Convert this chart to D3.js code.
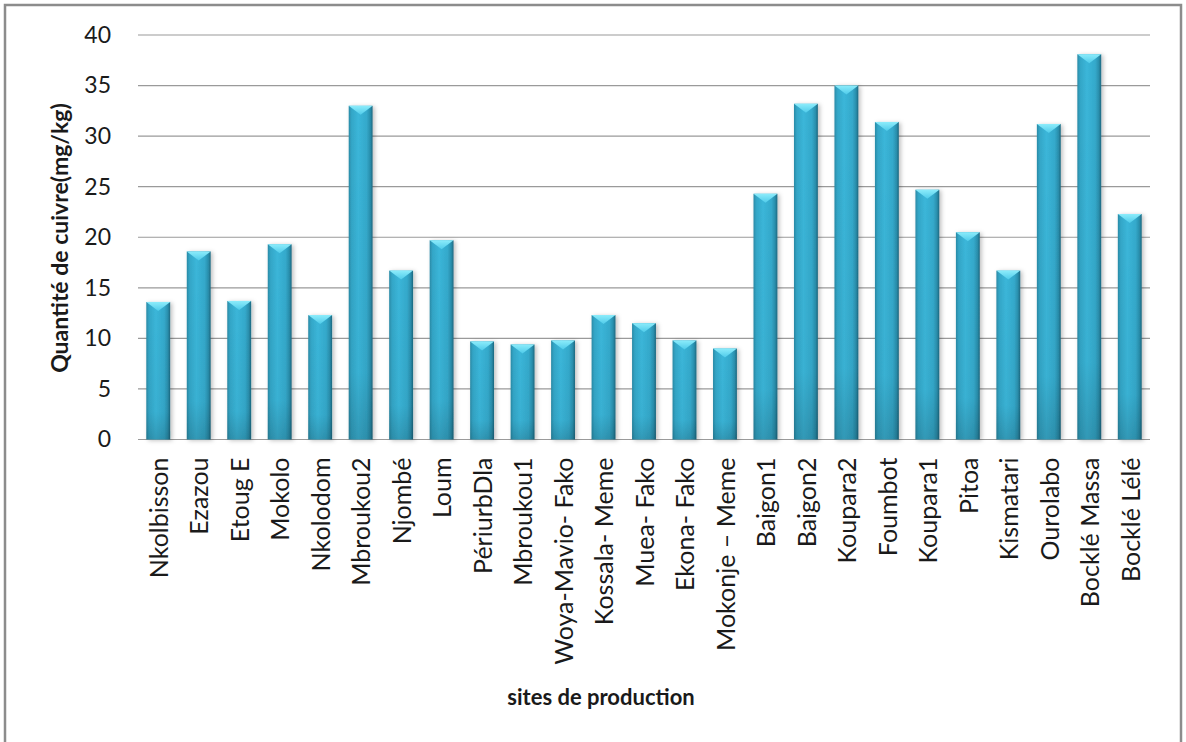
<!DOCTYPE html>
<html>
<head>
<meta charset="utf-8">
<script src="https://cdn.jsdelivr.net/npm/d3@7"></script>
<style>
  html, body { margin: 0; padding: 0; background: #fff; }
  svg { display: block; }
  text { font-family: Lato, "Open Sans", sans-serif; fill: #1a1a1a; }
</style>
</head>
<body>
<svg id="chart" width="1186" height="742"></svg>
<script>
// Copper content per production site (mg/kg)
const sites = [
  "Nkolbisson", "Ezazou", "Etoug E", "Mokolo", "Nkolodom", "Mbroukou2", "Njombé",
  "Loum", "PériurbDla", "Mbroukou1", "Woya-Mavio- Fako", "Kossala- Meme", "Muea- Fako",
  "Ekona- Fako", "Mokonje – Meme", "Baigon1", "Baigon2", "Koupara2", "Foumbot",
  "Koupara1", "Pitoa", "Kismatari", "Ourolabo", "Bocklé Massa", "Bocklé Lélé"
];
const copper = [
  13.6, 18.6, 13.7, 19.3, 12.3, 33.0, 16.7,
  19.7, 9.7, 9.4, 9.8, 12.3, 11.5,
  9.8, 9.0, 24.3, 33.2, 35.0, 31.4,
  24.7, 20.5, 16.7, 31.2, 38.1, 22.3
];
const yTicks = [0, 5, 10, 15, 20, 25, 30, 35, 40];
const yTitle = "Quantité de cuivre(mg/kg)";
const xTitle = "sites de production";

const svg = d3.select("#chart");

// outer frame
svg.append("rect")
  .attr("x", 5).attr("y", 5).attr("width", 1176).attr("height", 740)
  .attr("fill", "#fff").attr("stroke", "#8c8c8c").attr("stroke-width", 2.5);

const x = d3.scaleBand().domain(sites).range([138, 1150])
  .paddingInner(0.41).paddingOuter(0.205);
const y = d3.scaleLinear().domain([0, 40]).range([439.5, 35]);

// gradients for the bevelled bars
const defs = svg.append("defs");
const body = defs.append("linearGradient").attr("id", "barBody")
  .attr("x1", "0%").attr("x2", "100%").attr("y1", "0%").attr("y2", "0%");
[["0%", "#2a8aa6"], ["12%", "#33a6c7"], ["40%", "#3bb6d9"], ["75%", "#34a9cb"], ["90%", "#2a8fad"], ["100%", "#1c6880"]]
  .forEach(([o, c]) => body.append("stop").attr("offset", o).attr("stop-color", c));
const shade = defs.append("linearGradient").attr("id", "barShade")
  .attr("x1", "0%").attr("x2", "0%").attr("y1", "0%").attr("y2", "100%");
[["0%", "#000", 0], ["80%", "#000", 0.03], ["100%", "#000", 0.16]]
  .forEach(([o, c, a]) => shade.append("stop").attr("offset", o).attr("stop-color", c).attr("stop-opacity", a));
const cap = defs.append("linearGradient").attr("id", "barCap")
  .attr("x1", "0%").attr("x2", "0%").attr("y1", "0%").attr("y2", "100%");
[["0%", "#8cecfb"], ["100%", "#4fcbea"]]
  .forEach(([o, c]) => cap.append("stop").attr("offset", o).attr("stop-color", c));
const shadow = defs.append("filter").attr("id", "barShadow")
  .attr("x", "-30%").attr("y", "-10%").attr("width", "160%").attr("height", "130%");
shadow.append("feDropShadow").attr("dx", 2).attr("dy", 1).attr("stdDeviation", 2)
  .attr("flood-color", "#000").attr("flood-opacity", 0.25);

// gridlines
svg.append("g").selectAll("line").data(yTicks).join("line")
  .attr("x1", 138).attr("x2", 1150)
  .attr("y1", d => y(d)).attr("y2", d => y(d))
  .attr("stroke", "#9a9a9a").attr("stroke-width", 1.2);

// y-axis labels
const yAxis = d3.axisLeft(y).tickValues(yTicks).tickSize(0).tickPadding(0);
svg.append("g").attr("transform", "translate(111,0)").call(yAxis)
  .call(g => g.select(".domain").remove())
  .selectAll("text").style("font-size", "23px").attr("fill", "#1a1a1a")
  .style("font-family", "Lato, 'Open Sans', sans-serif");

// bars
const bars = svg.append("g").selectAll("g").data(sites).join("g")
  .attr("filter", "url(#barShadow)");
bars.append("rect")
  .attr("x", d => x(d)).attr("width", x.bandwidth())
  .attr("y", (d, i) => y(copper[i])).attr("height", (d, i) => y(0) - y(copper[i]))
  .attr("fill", "url(#barBody)");
bars.append("rect")
  .attr("x", d => x(d)).attr("width", x.bandwidth())
  .attr("y", (d, i) => y(copper[i])).attr("height", (d, i) => y(0) - y(copper[i]))
  .attr("fill", "url(#barShade)");
bars.append("path")
  .attr("d", (d, i) => {
    const x0 = x(d), w = x.bandwidth(), t = y(copper[i]);
    return `M${x0},${t}L${x0 + w},${t}L${x0 + w / 2},${t + 9}Z`;
  })
  .attr("fill", "url(#barCap)");

// x-axis labels, rotated
const xAxis = d3.axisBottom(x).tickSize(0).tickPadding(0);
svg.append("g").attr("transform", `translate(0,${y(0)})`).call(xAxis)
  .call(g => g.select(".domain").remove())
  .selectAll("text")
  .style("font-size", "25px").attr("fill", "#1a1a1a")
  .style("font-family", "Lato, 'Open Sans', sans-serif")
  .attr("transform", "rotate(-90)")
  .attr("text-anchor", "end")
  .attr("x", -18).attr("y", 1).attr("dy", "0.35em");

// axis titles
svg.append("text")
  .attr("transform", "translate(60,238) rotate(-90)")
  .attr("text-anchor", "middle").attr("dy", "0.35em")
  .style("font-size", "23px").style("font-weight", "bold")
  .text(yTitle);
svg.append("text")
  .attr("x", 601).attr("y", 697)
  .attr("text-anchor", "middle").attr("dy", "0.35em")
  .style("font-size", "22px").style("font-weight", "bold")
  .text(xTitle);
</script>
</body>
</html>
